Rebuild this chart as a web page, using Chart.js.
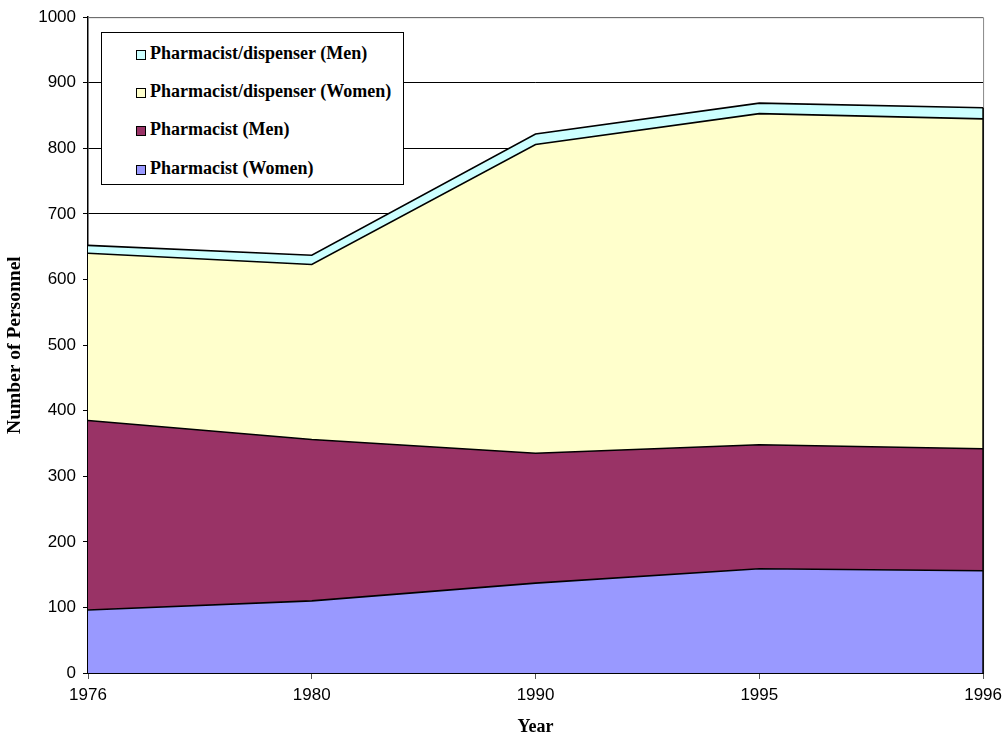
<!DOCTYPE html>
<html>
<head>
<meta charset="utf-8">
<script src="https://cdn.jsdelivr.net/npm/chart.js@4/dist/chart.umd.min.js"></script>
<style>
  html,body{margin:0;padding:0;background:#fff;}
  #wrap{position:relative;width:1008px;height:738px;}
  #legend{position:absolute;left:101px;top:32px;width:303px;height:153px;border:1px solid #000;background:#fff;box-sizing:border-box;
    font:bold 18px "Liberation Serif","Times New Roman",serif;color:#000;}
  .item{position:absolute;left:34px;height:20px;line-height:20px;white-space:nowrap;}
  .item span{display:inline-block;width:8px;height:8px;border:1px solid #000;margin-right:4px;vertical-align:-1px;}
</style>
</head>
<body>
<div id="wrap">
  <canvas id="chart" width="1008" height="738"></canvas>
  <div id="legend"></div>
</div>
<script>
const years = ['1976','1980','1990','1995','1996'];
const pharmWomen = [96, 110, 137, 159, 156];
const pharmMen = [289, 246, 198, 189, 186];
const dispWomen = [255, 267, 471, 505, 503];
const dispMen = [12, 14, 16, 16, 17];
const yTicks = [0,100,200,300,400,500,600,700,800,900,1000];

function area(label, data, color, fill){
  return { label, data, backgroundColor:color, borderColor:'#000', borderWidth:1.6,
    fill, pointRadius:0, tension:0 };
}

// grey frame on top/right, black edge on the right of the filled stack
const frame = {
  id:'frame',
  beforeDatasetsDraw(c){
    const a=c.chartArea, x=c.ctx;
    x.save(); x.strokeStyle='#888'; x.lineWidth=1;
    x.beginPath(); x.moveTo(a.left,a.top+0.5); x.lineTo(a.right+0.5,a.top+0.5); x.lineTo(a.right+0.5,a.bottom); x.stroke();
    x.restore();
  },
  afterDatasetsDraw(c){
    const a=c.chartArea, x=c.ctx;
    const last=c.getDatasetMeta(c.data.datasets.length-1).data;
    x.save(); x.strokeStyle='#000'; x.lineWidth=1.6;
    x.beginPath(); x.moveTo(a.right,a.bottom); x.lineTo(a.right,last[last.length-1].y); x.stroke();
    x.restore();
  }
};

const chart = new Chart(document.getElementById('chart'), {
  type:'line',
  data:{
    labels:years,
    datasets:[
      area('Pharmacist (Women)', pharmWomen, '#9999FF', 'origin'),
      area('Pharmacist (Men)', pharmMen, '#993366', '-1'),
      area('Pharmacist/dispenser (Women)', dispWomen, '#FFFFCC', '-1'),
      area('Pharmacist/dispenser (Men)', dispMen, '#CCFFFF', '-1')
    ]
  },
  options:{
    responsive:false,
    animation:false,
    layout:{padding:{left:0,top:15,right:20,bottom:0}},
    plugins:{legend:{display:false},tooltip:{enabled:false}},
    scales:{
      x:{
        offset:false,
        grid:{drawOnChartArea:false,drawTicks:true,tickLength:6,color:'#555'},
        border:{color:'#000',width:2},
        ticks:{color:'#000',padding:6,maxRotation:0,font:{family:'"Liberation Sans", Arial, sans-serif',size:17}},
        title:{display:true,text:'Year',color:'#000',padding:{top:0,bottom:0},
          font:{family:'"Liberation Serif","Times New Roman",serif',size:18,weight:'bold'}},
        afterFit(s){ s.height=738-673; }
      },
      y:{
        stacked:true, min:0, max:1000,
        afterBuildTicks(s){ s.ticks=yTicks.map(v=>({value:v})); },
        grid:{color:'#000',lineWidth:1,tickLength:5},
        border:{color:'#000',width:1.5},
        ticks:{color:'#000',padding:7,callback:v=>String(v),font:{family:'"Liberation Sans", Arial, sans-serif',size:17}},
        title:{display:true,text:'Number of Personnel',color:'#000',padding:{top:3,bottom:0},
          font:{family:'"Liberation Serif","Times New Roman",serif',size:19.5,weight:'bold'}},
        afterFit(s){ s.width=88; }
      }
    }
  },
  plugins:[frame]
});

// legend box inside the plot, top series first
const tops=[20,58,96,135];
document.getElementById('legend').innerHTML = chart.data.datasets.slice().reverse().map((d,i)=>
  `<div class="item" style="top:${tops[i]-10}px"><span style="background:${d.backgroundColor}"></span>${d.label}</div>`
).join('');
</script>
</body>
</html>
